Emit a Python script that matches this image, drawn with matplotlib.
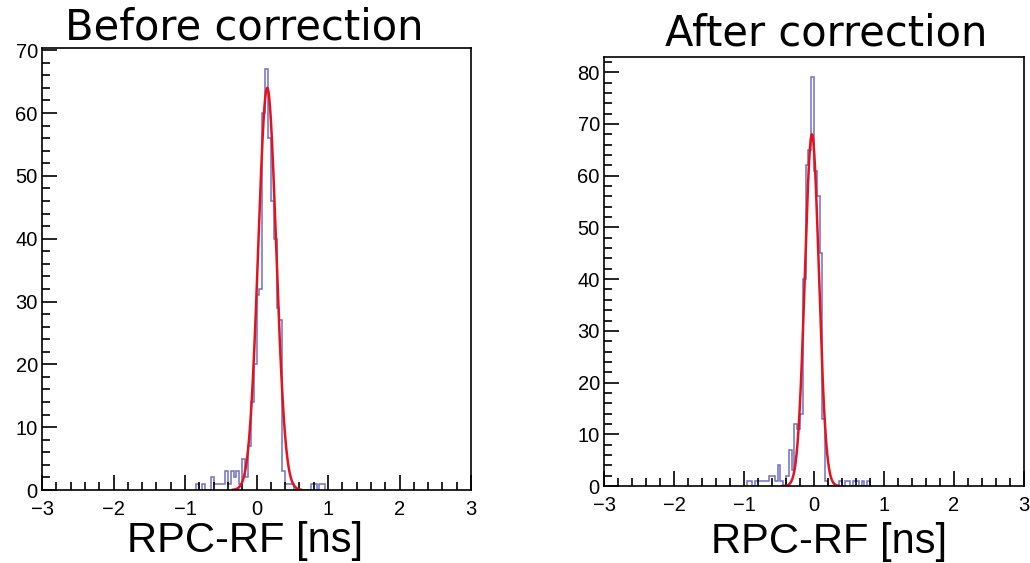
import numpy as np
import matplotlib
matplotlib.use("Agg")
import matplotlib.pyplot as plt
import matplotlib.transforms as mtransforms
from matplotlib.ticker import MultipleLocator

# ---------------- data ----------------
bin_width = 0.04

before_first_edge = -0.84
before_counts = [1, 0, 1, 0, 0, 2, 1, 1, 1, 1, 3, 1, 3, 2, 3, 1, 5, 2, 7, 14,
                 20, 31, 32, 60, 67, 56, 46, 40, 29, 27, 3, 1, 1, 1, 0, 0, 0, 0, 0, 0,
                 1, 1, 0, 1, 1]
before_fit_amp = 64.0
before_fit_mean = 0.15
before_fit_sigma = 0.125
before_fit_range = (-0.33, 0.62)

after_first_edge = -0.96
after_counts = [1, 1, 0, 1, 1, 1, 1, 1, 2, 2, 1, 4, 1, 0, 2, 7, 3, 12, 11, 14,
                40, 62, 65, 79, 61, 56, 45, 13, 1, 0, 0, 0, 0, 1, 0, 1, 1, 0, 1, 1,
                0, 1, 0, 1]
after_fit_amp = 68.0
after_fit_mean = -0.03
after_fit_sigma = 0.1
after_fit_range = (-0.45, 0.35)

x_range = (-3, 3)
before_ymax = 70.35
after_ymax = 82.95
titles = ["Before correction", "After correction"]
xlabel = "RPC-RF [ns]"

# ---------------- figure ----------------
W, H = 1030, 563
fig = plt.figure(figsize=(W / 100, H / 100), dpi=100)

def px_box(x0, x1, ytop, ybot):
    return [x0 / W, 1 - ybot / H, (x1 - x0) / W, (ybot - ytop) / H]

hist_color = "#6f6fc8"
fit_color = "#e5121c"
tick_family = "Liberation Sans"
tick_size = 14.5

def draw(ax, first_edge, counts, amp, mean, sigma, frange, ymax):
    counts = np.asarray(counts, dtype=float)
    edges = first_edge + bin_width * np.arange(len(counts) + 1)
    ax.stairs(counts, edges, color=hist_color, linewidth=1.1)
    xf = np.linspace(frange[0], frange[1], 400)
    ax.plot(xf, amp * np.exp(-0.5 * ((xf - mean) / sigma) ** 2),
            color=fit_color, linewidth=1.8)
    ax.set_xlim(*x_range)
    ax.set_ylim(0, ymax)
    ax.xaxis.set_major_locator(MultipleLocator(1))
    ax.xaxis.set_minor_locator(MultipleLocator(0.2))
    ax.yaxis.set_major_locator(MultipleLocator(10))
    ax.yaxis.set_minor_locator(MultipleLocator(2))
    ax.tick_params(which="both", direction="in", top=False, right=False,
                   width=1.2, colors="black")
    ax.tick_params(which="major", length=11)
    ax.tick_params(which="minor", length=6)
    ax.tick_params(axis="x", which="major", pad=7)
    ax.tick_params(axis="y", which="major", pad=3)
    for lab in ax.get_xticklabels() + ax.get_yticklabels():
        lab.set_fontfamily(tick_family)
        lab.set_fontsize(tick_size)
    # lift the bottom y label a touch so it does not collide with the x label
    first = ax.yaxis.get_major_ticks()[0].label1
    first.set_transform(first.get_transform() +
                        mtransforms.ScaledTranslation(0, 3 / 100, fig.dpi_scale_trans))
    for s in ax.spines.values():
        s.set_linewidth(1.2)

ax1 = fig.add_axes(px_box(42, 471, 48, 490))
draw(ax1, before_first_edge, before_counts, before_fit_amp, before_fit_mean,
     before_fit_sigma, before_fit_range, before_ymax)

ax2 = fig.add_axes(px_box(604, 1024, 57, 486))
draw(ax2, after_first_edge, after_counts, after_fit_amp, after_fit_mean,
     after_fit_sigma, after_fit_range, after_ymax)

fig.text(244 / W, 1 - 27 / H, titles[0], ha="center", va="center",
         fontsize=30, family="DejaVu Sans")
fig.text(826 / W, 1 - 33 / H, titles[1], ha="center", va="center",
         fontsize=30, family="DejaVu Sans")
fig.text(245 / W, 1 - 541 / H, xlabel, ha="center", va="center",
         fontsize=30, family="Liberation Sans")
fig.text(829 / W, 1 - 542 / H, xlabel, ha="center", va="center",
         fontsize=30, family="Liberation Sans")

fig.savefig("out.png", dpi=100)
